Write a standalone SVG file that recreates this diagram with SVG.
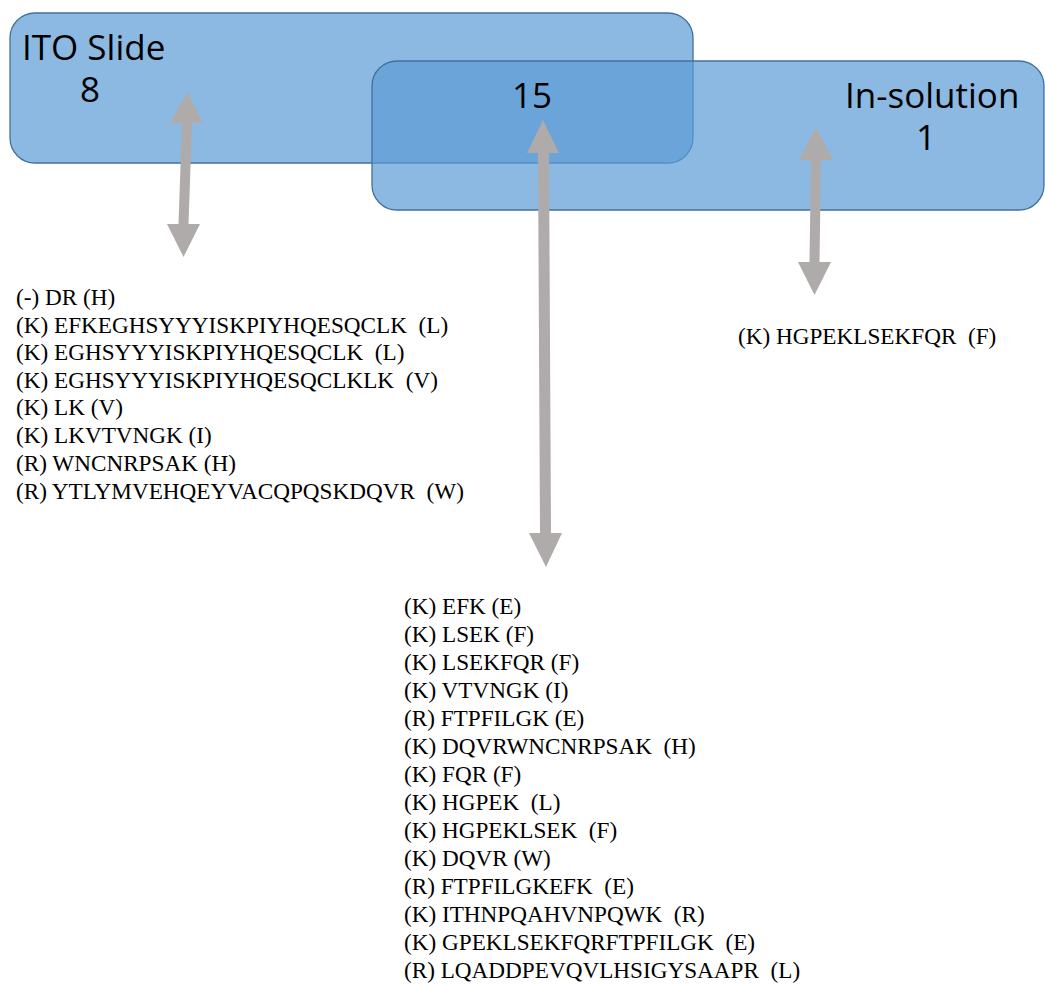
<svg xmlns="http://www.w3.org/2000/svg" width="1045" height="985" viewBox="0 0 1045 985">
<style>
.box{fill:#5B9BD5;fill-opacity:0.7;stroke:#41719C;stroke-width:1.3}
.lbl{font-family:"Open Sans","Noto Sans",sans-serif;font-size:35px;fill:#000}
.arr{fill:#AEABAA;stroke:none}
.seq{font-family:"Liberation Serif","Times New Roman",serif;font-size:23.2px;fill:#000;white-space:pre}
</style>
<rect width="1045" height="985" fill="#fff"/>
<g id="node-ito">
<rect class="box" x="10" y="13" width="683" height="150" rx="25"/>
</g>
<g id="node-insolution">
<rect class="box" x="372" y="61" width="672" height="149" rx="25"/>
</g>
<g id="labels">
<text class="lbl" x="22" y="60">ITO Slide<tspan x="80" y="102">8</tspan></text>
<text class="lbl" x="532" y="108" text-anchor="middle">15</text>
<text class="lbl" x="845" y="108">In-solution<tspan x="916" y="150">1</tspan></text>
</g>
<g id="connectors">
<path class="arr" d="M187,92 L203,123 L192,123 L188.5,224 L200,224 L183.5,257 L167,224 L178.5,224 L182,123 L170,123 Z"/>
<path class="arr" d="M543,120 L559,153 L549,153 L551,533 L562,533 L546,567 L529,533 L540,533 L538,153 L527,153 Z"/>
<path class="arr" d="M816,127 L833,160 L821,160 L819.5,262 L831,262 L814.5,295 L798,262 L809.5,262 L811,160 L799,160 Z"/>
</g>
<g id="list-ito">
<text class="seq" x="16" y="305">(-) DR (H)</text>
<text class="seq" x="16" y="333">(K) EFKEGHSYYYISKPIYHQESQCLK  (L)</text>
<text class="seq" x="16" y="360">(K) EGHSYYYISKPIYHQESQCLK  (L)</text>
<text class="seq" x="16" y="388">(K) EGHSYYYISKPIYHQESQCLKLK  (V)</text>
<text class="seq" x="16" y="415">(K) LK (V)</text>
<text class="seq" x="16" y="443">(K) LKVTVNGK (I)</text>
<text class="seq" x="16" y="471">(R) WNCNRPSAK (H)</text>
<text class="seq" x="16" y="499">(R) YTLYMVEHQEYVACQPQSKDQVR  (W)</text>
</g>
<g id="list-insolution">
<text class="seq" x="738" y="344">(K) HGPEKLSEKFQR  (F)</text>
</g>
<g id="list-shared">
<text class="seq" x="404" y="614">(K) EFK (E)</text>
<text class="seq" x="404" y="642">(K) LSEK (F)</text>
<text class="seq" x="404" y="670">(K) LSEKFQR (F)</text>
<text class="seq" x="404" y="698">(K) VTVNGK (I)</text>
<text class="seq" x="404" y="726">(R) FTPFILGK (E)</text>
<text class="seq" x="404" y="754">(K) DQVRWNCNRPSAK  (H)</text>
<text class="seq" x="404" y="782">(K) FQR (F)</text>
<text class="seq" x="404" y="810">(K) HGPEK  (L)</text>
<text class="seq" x="404" y="838">(K) HGPEKLSEK  (F)</text>
<text class="seq" x="404" y="866">(K) DQVR (W)</text>
<text class="seq" x="404" y="894">(R) FTPFILGKEFK  (E)</text>
<text class="seq" x="404" y="922">(K) ITHNPQAHVNPQWK  (R)</text>
<text class="seq" x="404" y="950">(K) GPEKLSEKFQRFTPFILGK  (E)</text>
<text class="seq" x="404" y="978">(R) LQADDPEVQVLHSIGYSAAPR  (L)</text>
</g>
</svg>
